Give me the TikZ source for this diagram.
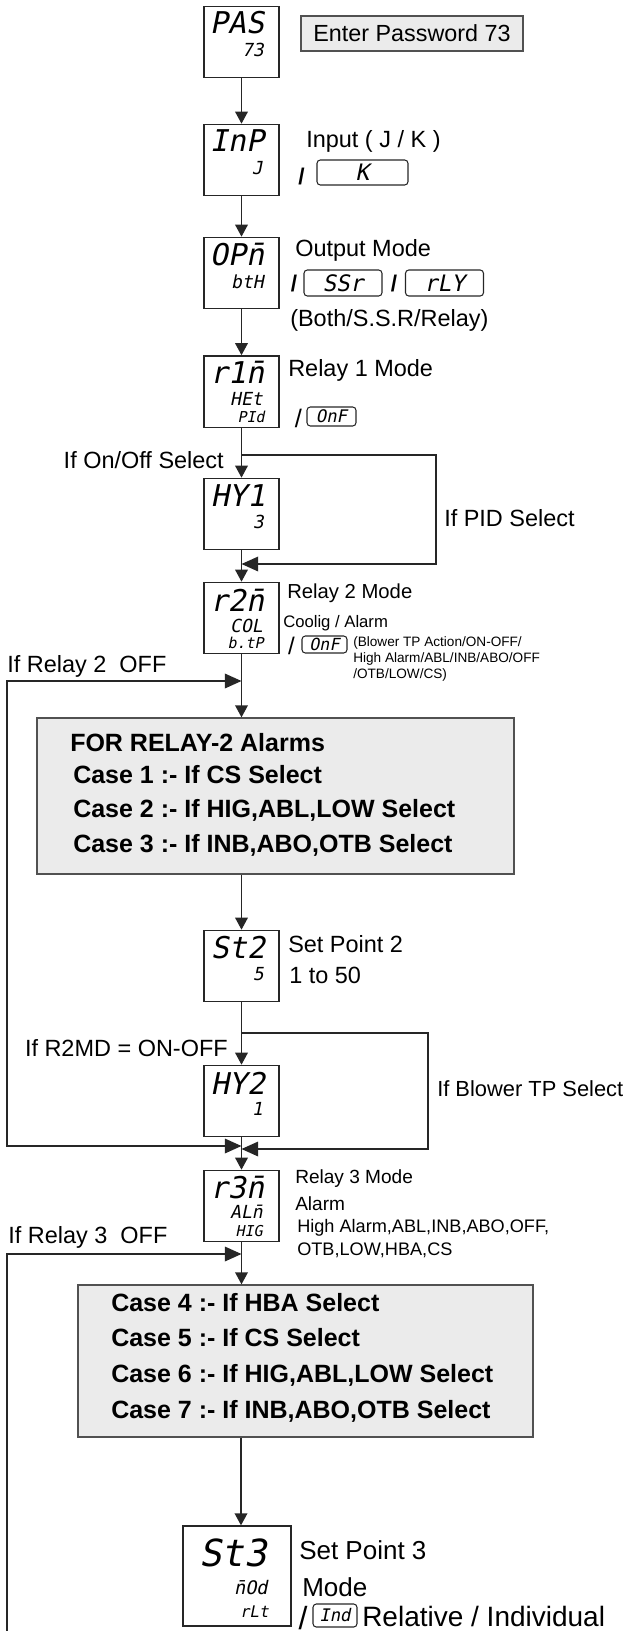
\documentclass[tikz,border=0pt]{standalone}
\usepackage{fontspec}
\setmainfont{Liberation Sans}
\newfontfamily\segfont{DejaVu Sans Mono}[FakeSlant=0.2]
\usetikzlibrary{arrows.meta}
\definecolor{panelgray}{HTML}{EBEBEB}
\definecolor{inkdark}{HTML}{262626}

\tikzset{
  disp/.style={draw=inkdark, line width=1pt, minimum width=56.25pt, minimum height=53.5pt, inner sep=0pt},
  panel/.style={draw=inkdark!80, fill=panelgray, line width=1pt, inner sep=0pt},
  optbox/.style={draw=inkdark, line width=0.8pt, rounded corners=2.5pt, inner sep=0pt,
    font=\segfont\fontsize{17}{17}\selectfont},
  segbig/.style={inner sep=0pt, font=\segfont\fontsize{22.5}{22.5}\selectfont},
  segmid/.style={inner sep=0pt, anchor=east, font=\segfont\fontsize{13.5}{13.5}\selectfont},
  segsmall/.style={inner sep=0pt, anchor=east, font=\segfont\fontsize{11.25}{11.25}\selectfont},
  lbl/.style={inner sep=0pt, anchor=west, font=\fontsize{17.6}{21}\selectfont},
  casetext/.style={inner sep=0pt, anchor=west, font=\fontsize{18.75}{22}\selectfont\bfseries},
  slashmark/.style={inner sep=0pt},
  flow/.style={draw=inkdark, line width=1pt, -{Triangle[length=9pt, width=9.5pt]}},
  back/.style={draw=inkdark, line width=1pt, -{Triangle[length=12.5pt, width=11pt]}},
}

\begin{document}
\begin{tikzpicture}[x=0.75pt, y=-0.75pt]
  \useasboundingbox (0,0) rectangle (628,1631);
  \coordinate (col) at (241,0);

  % display boxes of the menu
  \node[disp] (pas) at (241.5,42) {};
  \node[disp] (inp) at (241.5,160) {};
  \node[disp] (opn) at (241.5,273) {};
  \node[disp] (rone) at (241.5,391.5) {};
  \node[disp] (hyone) at (241.5,514) {};
  \node[disp] (rtwo) at (241.5,618) {};
  \node[disp] (sttwo) at (241.5,966) {};
  \node[disp] (hytwo) at (241.5,1101) {};
  \node[disp] (rthree) at (241.5,1206) {};
  \node[disp, minimum width=81pt, minimum height=75pt] (stthree) at (237,1576) {};

  % display readings
  \node[segbig] (pas-a) at (237,23) {PAS};
  \node[segmid] (pas-b) at (264,50) {73};
  \node[segbig] (inp-a) at (237,141) {InP};
  \node[segmid] (inp-b) at (263,168) {J};
  \node[segbig] (opn-a) at (237,255) {OP\=n};
  \node[segmid] (opn-b) at (264,282) {btH};
  \node[segbig] (rone-a) at (237,372) {r1\=n};
  \node[segmid] (rone-b) at (263,399) {HEt};
  \node[segsmall] (rone-c) at (265,417) {PId};
  \node[segbig] (hyone-a) at (238,496) {HY1};
  \node[segmid] (hyone-b) at (264,522) {3};
  \node[segbig] (rtwo-a) at (237,600) {r2\=n};
  \node[segmid] (rtwo-b) at (263,626) {COL};
  \node[segsmall] (rtwo-c) at (264,643) {b.tP};
  \node[segbig] (sttwo-a) at (238,948) {St2};
  \node[segmid] (sttwo-b) at (264,974) {5};
  \node[segbig] (hytwo-a) at (238,1083) {HY2};
  \node[segmid] (hytwo-b) at (263,1109) {1};
  \node[segbig] (rthree-a) at (237,1188) {r3\=n};
  \node[segmid] (rthree-b) at (263,1212) {AL\=n};
  \node[segsmall] (rthree-c) at (263,1231) {HIG};
  \node[segbig, font=\segfont\fontsize{28}{28}\selectfont] (stthree-a) at (233,1553) {St3};
  \node[segmid, font=\segfont\fontsize{14}{14}\selectfont] (stthree-b) at (268,1588) {\=nOd};
  \node[segsmall, font=\segfont\fontsize{12}{12}\selectfont] (stthree-c) at (269,1612) {rLt};

  % password note
  \node[panel, minimum width=166.5pt, minimum height=26.25pt,
        font=\fontsize{17.5}{21}\selectfont] (passnote) at (412,33.5) {Enter Password 73};

  % input type
  \node[lbl] (inplbl) at (306,141) {Input ( J / K )};
  \node[slashmark, font=\fontsize{17}{17}\selectfont\bfseries] (inpslash) at (301.5,177) {/};
  \node[optbox, minimum width=68.25pt, minimum height=18.75pt] (kopt) at (362.5,172.5) {K};

  % output mode
  \node[lbl] (opnlbl) at (295,250) {Output Mode};
  \node[slashmark, font=\fontsize{17}{17}\selectfont\bfseries] (opnslash) at (294,284) {/};
  \node[optbox, minimum width=58.5pt, minimum height=19.5pt] (ssropt) at (343,283) {SSr};
  \node[slashmark, font=\fontsize{17}{17}\selectfont\bfseries] (opnslashb) at (394,284) {/};
  \node[optbox, minimum width=58.5pt, minimum height=19.5pt] (rlyopt) at (444.5,283) {rLY};
  \node[lbl] (opnnote) at (290,320) {(Both/S.S.R/Relay)};

  % relay 1
  \node[lbl] (ronelbl) at (288,370) {Relay 1 Mode};
  \node[slashmark, font=\fontsize{19}{19}\selectfont] (roneslash) at (298.5,418) {/};
  \node[optbox, minimum width=36.75pt, minimum height=14.25pt,
        font=\segfont\fontsize{13}{13}\selectfont] (onfopt) at (331.5,416.5) {OnF};
  \node[lbl, anchor=east] (onofflbl) at (224,460) {If On/Off Select};
  \node[lbl] (pidlbl) at (444,518) {If PID Select};

  % relay 2
  \node[lbl, font=\fontsize{15.2}{18}\selectfont] (rtwolbl) at (287,593) {Relay 2 Mode};
  \node[lbl, font=\fontsize{12.5}{15}\selectfont] (rtwosub) at (283,623) {Coolig / Alarm};
  \node[slashmark, font=\fontsize{18}{18}\selectfont] (rtwoslash) at (291.5,646) {/};
  \node[optbox, minimum width=33.75pt, minimum height=12.75pt,
        font=\segfont\fontsize{12.5}{12.5}\selectfont] (onfopttwo) at (324.5,644.5) {OnF};
  \node[lbl, font=\fontsize{10.2}{12}\selectfont] (rtwolista) at (353,643) {(Blower TP Action/ON-OFF/};
  \node[lbl, font=\fontsize{10.2}{12}\selectfont] (rtwolistb) at (353,659) {High Alarm/ABL/INB/ABO/OFF};
  \node[lbl, font=\fontsize{10.2}{12}\selectfont] (rtwolistc) at (353,675) {/OTB/LOW/CS)};
  \node[lbl] (rtwooff) at (7,666) {If Relay 2\ \ OFF};

  % relay 2 alarm cases
  \node[panel, minimum width=357.75pt, minimum height=117pt] (alarmA) at (275.5,796) {};
  \node[casetext] (alarmA-head) at (70,743) {FOR RELAY-2 Alarms};
  \foreach \n/\yy/\txt in {1/775/{Case 1 :- If CS Select},
                           2/810/{Case 2 :- If HIG,ABL,LOW Select},
                           3/845/{Case 3 :- If INB,ABO,OTB Select}} {
    \node[casetext] (alarmA-\n) at (73,\yy) {\txt};
  }

  % set point 2
  \node[lbl] (sttwolbl) at (288,944) {Set Point 2};
  \node[lbl] (sttwosub) at (289,975) {1 to 50};
  \node[lbl, anchor=east] (rtwomdlbl) at (228,1048) {If R2MD = ON-OFF};
  \node[lbl, font=\fontsize{16.4}{20}\selectfont] (blowlbl) at (437,1089) {If Blower TP Select};

  % relay 3
  \node[lbl, font=\fontsize{14.3}{17}\selectfont] (rthreelbl) at (295,1179) {Relay 3 Mode};
  \node[lbl, font=\fontsize{14.3}{17}\selectfont] (rthreesub) at (295,1204) {Alarm};
  \node[lbl, font=\fontsize{13.6}{16}\selectfont] (rthreelista) at (297,1228) {High Alarm,ABL,INB,ABO,OFF,};
  \node[lbl, font=\fontsize{13.6}{16}\selectfont] (rthreelistb) at (297,1250) {OTB,LOW,HBA,CS};
  \node[lbl] (rthreeoff) at (8,1237) {If Relay 3\ \ OFF};

  % relay 3 alarm cases
  \node[panel, minimum width=341.25pt, minimum height=114pt] (alarmB) at (305.5,1361) {};
  \foreach \n/\yy/\txt in {4/1303/{Case 4 :- If HBA Select},
                           5/1338/{Case 5 :- If CS Select},
                           6/1375/{Case 6 :- If HIG,ABL,LOW Select},
                           7/1411/{Case 7 :- If INB,ABO,OTB Select}} {
    \node[casetext] (alarmB-\n) at (111,\yy) {\txt};
  }

  % set point 3
  \node[lbl, font=\fontsize{19.5}{23}\selectfont] (stthreelbl) at (299,1550) {Set Point 3};
  \node[lbl, font=\fontsize{19.5}{23}\selectfont] (stthreesub) at (302,1587) {Mode};
  \node[slashmark, font=\fontsize{24}{24}\selectfont] (stthreeslash) at (303,1618) {/};
  \node[optbox, minimum width=33pt, minimum height=17.25pt,
        font=\segfont\fontsize{13}{13}\selectfont] (indopt) at (335,1615.5) {Ind};
  \node[lbl, font=\fontsize{21}{24}\selectfont] (stthreenote) at (362,1616) {Relative / Individual};

  % main flow
  \draw[flow] (pas) -- (inp);
  \draw[flow] (inp) -- (opn);
  \draw[flow] (opn) -- (rone);
  \draw[flow] (rone) -- (hyone);
  \draw[flow] (hyone) -- (rtwo);
  \draw[flow] (rtwo.south) -- (rtwo.south |- alarmA.north);
  \draw[flow] (alarmA.south -| sttwo) -- (sttwo);
  \draw[flow] (sttwo) -- (hytwo);
  \draw[flow] (hytwo) -- (rthree);
  \draw[flow] (rthree.south) -- (rthree.south |- alarmB.north);
  \draw[flow] (alarmB.south -| col) -- (stthree.north -| col);

  % bypass loops
  \coordinate (pidsplit) at (241.5,455);
  \coordinate (pidjoin) at (241.5,564);
  \draw[back] (pidsplit) -- ++(194.5,0) |- (pidjoin);

  \coordinate (rtwoskip) at (241.5,681);
  \coordinate (rtwojoin) at (241.5,1146);
  \draw[back, {Triangle[length=12.5pt, width=11pt]}-{Triangle[length=12.5pt, width=11pt]}]
    (rtwoskip) -- (7,681) |- (rtwojoin);

  \coordinate (blowsplit) at (241.5,1033);
  \coordinate (blowjoin) at (241.5,1149);
  \draw[back] (blowsplit) -- ++(186.5,0) |- (blowjoin);

  \coordinate (leftfoot) at (7,1631);
  \coordinate (rthreeskip) at (241.5,1254);
  \draw[back] (leftfoot) |- (rthreeskip);
\end{tikzpicture}
\end{document}
